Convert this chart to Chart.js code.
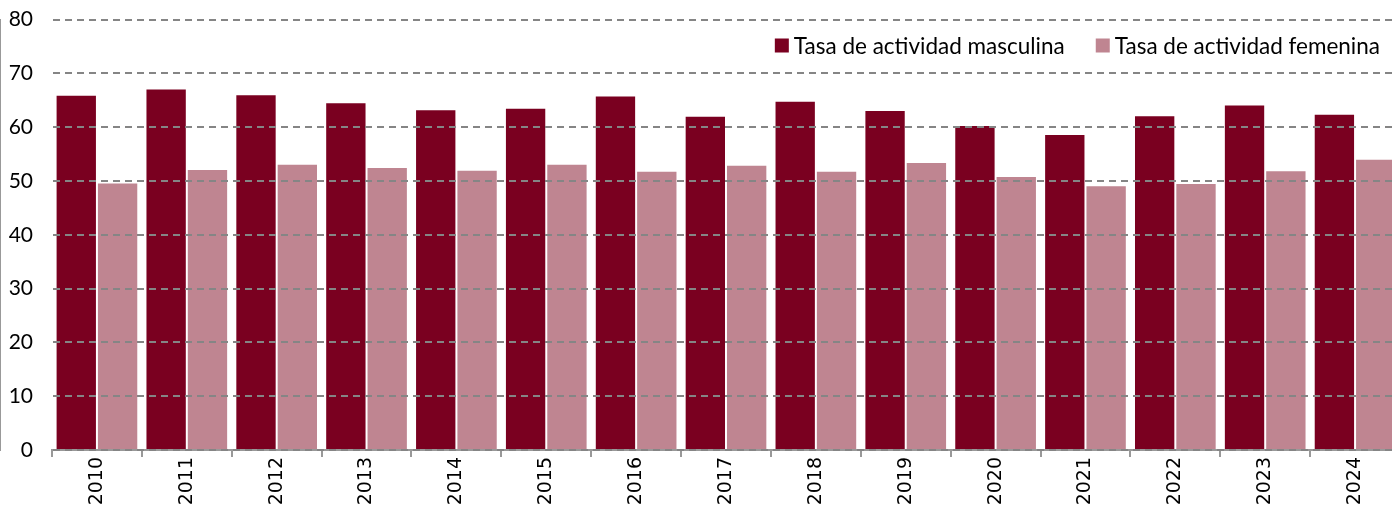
<!DOCTYPE html>
<html lang="es">
<head>
<meta charset="utf-8">
<title>Tasa de actividad por sexo</title>
<script src="https://cdn.jsdelivr.net/npm/chart.js@4"></script>
<style>
  html, body { margin: 0; padding: 0; background: #fff; overflow: hidden; }
  #contenedor { width: 1400px; height: 508px; position: relative; }
</style>
</head>
<body>
<div id="contenedor"><canvas id="grafico"></canvas></div>
<script>
// Años y tasas de actividad (%)
const anios = ['2010', '2011', '2012', '2013', '2014', '2015', '2016', '2017',
               '2018', '2019', '2020', '2021', '2022', '2023', '2024'];
const tasaMasculina = [66.0, 67.2, 66.1, 64.6, 63.3, 63.6, 65.9, 62.1,
                       64.9, 63.2, 60.4, 58.7, 62.2, 64.2, 62.5];
const tasaFemenina = [49.7, 52.2, 53.2, 52.6, 52.1, 53.2, 51.9, 53.0,
                      51.9, 53.5, 50.9, 49.2, 49.6, 52.0, 54.1];
const ticksY = [0, 10, 20, 30, 40, 50, 60, 70, 80];

const ctx = document.getElementById('grafico');

// Leyenda dibujada dentro del área del gráfico, arriba a la derecha
const leyendaInterna = {
  id: 'leyendaInterna',
  afterDraw(chart) {
    const c = chart.ctx;
    const area = chart.chartArea;
    const caja = 14, hueco = 5, separacion = 31;
    c.save();
    c.font = '22.5px Lato';
    c.textBaseline = 'middle';
    c.textAlign = 'left';
    const items = chart.data.datasets.map(ds => ({
      texto: ds.label, color: ds.backgroundColor, ancho: c.measureText(ds.label).width
    }));
    const total = items.reduce((s, it) => s + caja + hueco + it.ancho, 0) + separacion * (items.length - 1);
    let x = 1380 - total;
    const y = area.top + 26;
    items.forEach(it => {
      c.fillStyle = it.color;
      c.fillRect(x, y - caja / 2, caja, caja);
      x += caja + hueco;
      c.fillStyle = '#000';
      c.fillText(it.texto, x, y + 1);
      x += it.ancho + separacion;
    });
    c.restore();
  }
};

new Chart(ctx, {
  type: 'bar',
  data: {
    labels: anios,
    datasets: [
      {
        label: 'Tasa de actividad masculina',
        data: tasaMasculina,
        backgroundColor: '#7a0020',
        borderColor: 'rgba(255,255,255,0.3)',
        borderWidth: 1,
        categoryPercentage: 0.92,
        barPercentage: 1.0
      },
      {
        label: 'Tasa de actividad femenina',
        data: tasaFemenina,
        backgroundColor: '#bf8591',
        borderColor: 'rgba(255,255,255,0.3)',
        borderWidth: 1,
        categoryPercentage: 0.92,
        barPercentage: 1.0
      }
    ]
  },
  options: {
    responsive: true,
    maintainAspectRatio: false,
    animation: false,
    layout: { padding: { top: 19.5, right: 0, left: 0, bottom: 0 } },
    plugins: {
      tooltip: { enabled: false },
      legend: { display: false }
    },
    scales: {
      x: {
        grid: {
          offset: true,
          drawOnChartArea: false,
          drawTicks: true,
          tickLength: 7,
          color: '#999',
          lineWidth: 2
        },
        border: { color: '#999', width: 2 },
        ticks: {
          color: '#000',
          font: { family: 'DejaVu Sans', size: 19 },
          minRotation: 90,
          maxRotation: 90,
          padding: 0
        },
        afterFit: scale => {
          scale.height = 58;
          scale.paddingLeft = 0;
          scale.paddingRight = 0;
        }
      },
      y: {
        min: 0,
        max: 80,
        afterBuildTicks: scale => { scale.ticks = ticksY.map(v => ({ value: v })); },
        grid: {
          z: 1,
          color: '#858585',
          lineWidth: 2,
          drawTicks: false
        },
        border: { color: '#999', width: 2, dash: [7, 5] },
        ticks: {
          color: '#000',
          font: { family: 'Lato', size: 21 },
          padding: 19
        },
        afterFit: scale => {
          scale.width = 52;
          scale.paddingTop = 0;
          scale.paddingBottom = 0;
        }
      }
    }
  },
  plugins: [leyendaInterna]
});
</script>
</body>
</html>
